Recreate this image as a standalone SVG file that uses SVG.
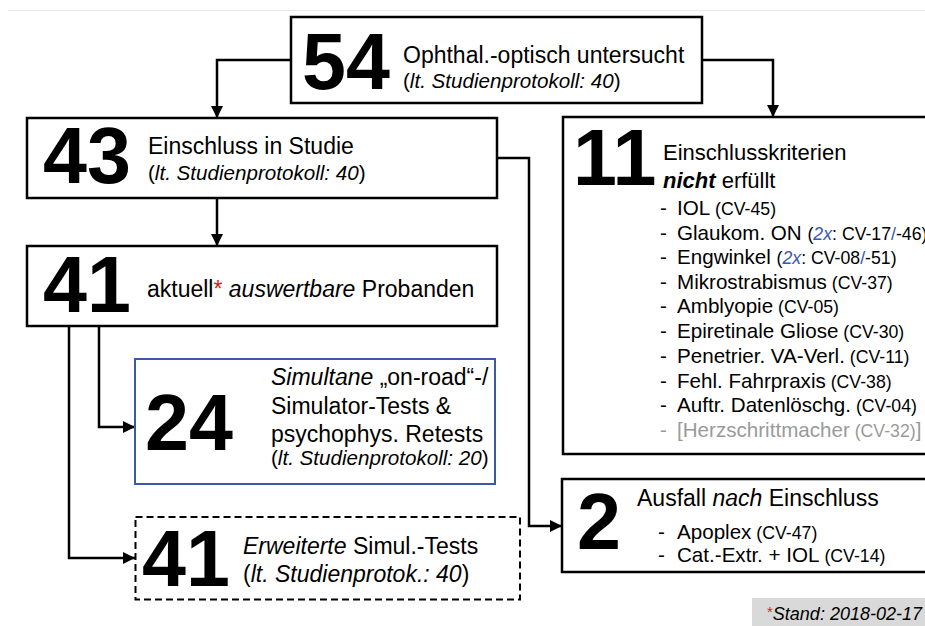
<svg xmlns="http://www.w3.org/2000/svg" width="925" height="626" viewBox="0 0 925 626">
<defs>
<style>
text{font-family:"Liberation Sans",Arial,sans-serif;fill:#000}
.box{fill:#fff;stroke:#000;stroke-width:2.5}
.num{font-weight:bold;font-size:79px}
.t23{font-size:23px}
.t20{font-size:20.6px}
.sm{font-size:17.7px}
.it{font-style:italic}
.blue{fill:#3a56b0}
.red{fill:#e02020}
.gray{fill:#9a9a9a}
.conn{fill:none;stroke:#000;stroke-width:2.5}
</style>
<marker id="arr" viewBox="0 0 12 12" refX="12" refY="6" markerWidth="12" markerHeight="12" markerUnits="userSpaceOnUse" orient="auto">
<path d="M0,0 L12,6 L0,12 z" fill="#000"/>
</marker>
</defs>
<rect width="925" height="626" fill="#fff"/>
<line x1="8" y1="10.5" x2="925" y2="10.5" stroke="#e8e8e8" stroke-width="1.2"/>

<g id="connectors">
<path class="conn" d="M291,60 H217 V118" marker-end="url(#arr)"/>
<path class="conn" d="M702,60 H773 V117" marker-end="url(#arr)"/>
<path class="conn" d="M217,198 V246" marker-end="url(#arr)"/>
<path class="conn" d="M497,158 H529 V526 H562" marker-end="url(#arr)"/>
<path class="conn" d="M99,326 V427 H135" marker-end="url(#arr)"/>
<path class="conn" d="M69,326 V558 H135" marker-end="url(#arr)"/>
</g>

<g id="n54">
<rect class="box" x="291" y="17" width="411" height="86"/>
<text class="num" x="302" y="88.5">54</text>
<text class="t23" x="403" y="63">Ophthal.-optisch untersucht</text>
<text class="t20" x="403" y="88">(<tspan class="it">lt. Studienprotokoll: 40</tspan>)</text>
</g>

<g id="n43">
<rect class="box" x="27" y="118" width="470" height="80"/>
<text class="num" x="43" y="183">43</text>
<text class="t23" x="148" y="154">Einschluss in Studie</text>
<text class="t20" x="148" y="180">(<tspan class="it">lt. Studienprotokoll: 40</tspan>)</text>
</g>

<g id="n11">
<rect class="box" x="563" y="117" width="380" height="337"/>
<text class="num" x="573" y="185">11</text>
<text style="font-size:22px" x="663" y="160">Einschlusskriterien</text>
<text style="font-size:22px" x="663" y="188"><tspan font-weight="bold" font-style="italic">nicht</tspan> erfüllt</text>
<g class="t20">
<text x="660" y="215">-</text><text x="677" y="215">IOL<tspan class="sm"> (CV-45)</tspan></text>
<text x="660" y="239.5">-</text><text x="677" y="239.5">Glaukom. ON <tspan class="sm">(<tspan class="blue it">2x</tspan>: CV-17<tspan class="blue">/</tspan>-46)</tspan></text>
<text x="660" y="264">-</text><text x="677" y="264">Engwinkel <tspan class="sm">(<tspan class="blue it">2x</tspan>: CV-08<tspan class="blue">/</tspan>-51)</tspan></text>
<text x="660" y="288.5">-</text><text x="677" y="288.5">Mikrostrabismus<tspan class="sm"> (CV-37)</tspan></text>
<text x="660" y="313">-</text><text x="677" y="313">Amblyopie<tspan class="sm"> (CV-05)</tspan></text>
<text x="660" y="338">-</text><text x="677" y="338">Epiretinale Gliose<tspan class="sm"> (CV-30)</tspan></text>
<text x="660" y="363">-</text><text x="677" y="363">Penetrier. VA-Verl.<tspan class="sm"> (CV-11)</tspan></text>
<text x="660" y="387.5">-</text><text x="677" y="387.5">Fehl. Fahrpraxis<tspan class="sm"> (CV-38)</tspan></text>
<text x="660" y="412">-</text><text x="677" y="412">Auftr. Datenlöschg.<tspan class="sm"> (CV-04)</tspan></text>
<text class="gray" x="660" y="437">-</text><text class="gray" x="677" y="437">[Herzschrittmacher<tspan class="sm"> (CV-32)</tspan>]</text>
</g>
</g>

<g id="n41a">
<rect class="box" x="27" y="246" width="470" height="80"/>
<text class="num" x="43" y="311.5">41</text>
<text class="t23" x="147" y="297">aktuell<tspan class="red">*</tspan> <tspan class="it">auswertbare</tspan> Probanden</text>
</g>

<g id="n24">
<rect x="135" y="359" width="360" height="125" fill="#fff" stroke="#3a5aa8" stroke-width="2"/>
<text class="num" x="145" y="450">24</text>
<text class="t23" x="271" y="385"><tspan class="it">Simultane</tspan> „on-road“-/</text>
<text class="t23" x="271" y="413.5">Simulator-Tests &amp;</text>
<text class="t23" x="271" y="442">psychophys. Retests</text>
<text class="t20" x="271" y="465">(<tspan class="it">lt. Studienprotokoll: 20</tspan>)</text>
</g>

<g id="n41b">
<rect x="135.5" y="517" width="384.5" height="82.5" fill="#fff" stroke="#000" stroke-width="2" stroke-dasharray="7 4"/>
<text class="num" x="142" y="586">41</text>
<text class="t23" x="243" y="554"><tspan class="it">Erweiterte</tspan> Simul.-Tests</text>
<text class="t23" x="243" y="582">(<tspan class="it">lt. Studienprotok.: 40</tspan>)</text>
</g>

<g id="n2">
<rect class="box" x="562" y="479" width="380" height="93"/>
<text class="num" x="577" y="548.5">2</text>
<text class="t23" x="637" y="506">Ausfall <tspan class="it">nach</tspan> Einschluss</text>
<g class="t20">
<text x="658" y="538.5">-</text><text x="677" y="538.5">Apoplex<tspan class="sm"> (CV-47)</tspan></text>
<text x="658" y="562">-</text><text x="677" y="562">Cat.-Extr. + IOL<tspan class="sm"> (CV-14)</tspan></text>
</g>
</g>

<g id="footnote">
<rect x="752" y="598" width="173" height="28" fill="#d9d9d9"/>
<text x="767" y="620" style="font-size:18px"><tspan class="red" style="font-size:15px" dy="-3">*</tspan><tspan class="it" dy="3">Stand: 2018-02-17</tspan></text>
</g>
</svg>
